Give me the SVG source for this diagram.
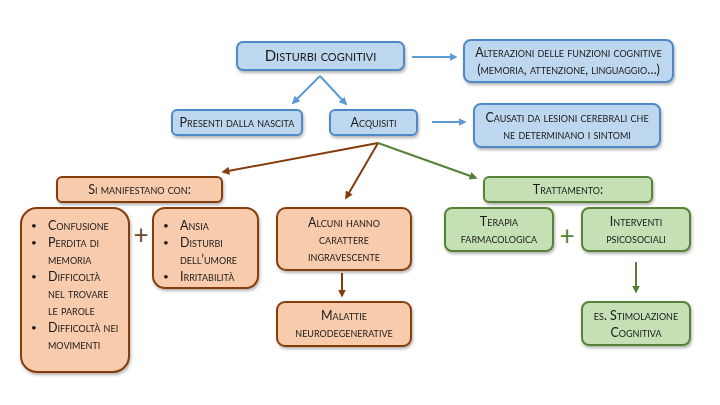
<svg xmlns="http://www.w3.org/2000/svg" width="720" height="405" viewBox="0 0 720 405">
<defs>
<style>
text{font-family:"Lato","Liberation Sans",sans-serif;font-variant:small-caps;font-size:12.5px;fill:#1a1a1a;text-anchor:middle}
.l{text-anchor:start}
.bu{font-size:10px;font-variant:normal}
.blue{fill:#bdd7ee;stroke:#4f88c6;stroke-width:2}
.br{fill:#f8cbad;stroke:#843c0c;stroke-width:2}
.gr{fill:#c5e0b4;stroke:#548235;stroke-width:2}
.cb{stroke:#5b9bd5;stroke-width:2;fill:none}
.cr{stroke:#843c0c;stroke-width:2;fill:none}
.cg{stroke:#548235;stroke-width:2;fill:none}
.plus{font-size:26px;font-variant:normal;fill:#6b4a2a}
.plusg{font-size:26px;font-variant:normal;fill:#548235}
</style>
<filter id="sh" x="-10%" y="-10%" width="130%" height="140%"><feDropShadow dx="1" dy="2" stdDeviation="1.5" flood-color="#000" flood-opacity="0.3"/></filter>
<marker id="ab" viewBox="0 0 10 10" refX="8" refY="5" markerWidth="4" markerHeight="4" orient="auto"><path d="M0,0 L10,5 L0,10 z" fill="#5b9bd5"/></marker>
<marker id="ar" viewBox="0 0 10 10" refX="8" refY="5" markerWidth="4" markerHeight="4" orient="auto"><path d="M0,0 L10,5 L0,10 z" fill="#843c0c"/></marker>
<marker id="ag" viewBox="0 0 10 10" refX="8" refY="5" markerWidth="4" markerHeight="4" orient="auto"><path d="M0,0 L10,5 L0,10 z" fill="#548235"/></marker>
</defs>
<rect width="720" height="405" fill="#fff"/>
<g id="connectors">
<line class="cb" x1="412" y1="57" x2="456" y2="57" marker-end="url(#ab)"/>
<line class="cb" x1="320" y1="76" x2="346" y2="104" marker-end="url(#ab)"/>
<line class="cb" x1="320" y1="76" x2="293" y2="103" marker-end="url(#ab)"/>
<line class="cb" x1="432" y1="122" x2="465" y2="122" marker-end="url(#ab)"/>
<line class="cr" x1="378" y1="143" x2="223" y2="172" marker-end="url(#ar)"/>
<line class="cr" x1="378" y1="143" x2="346" y2="198" marker-end="url(#ar)"/>
<line class="cg" x1="378" y1="143" x2="476" y2="178" marker-end="url(#ag)"/>
<line class="cr" x1="342" y1="273" x2="342" y2="296" marker-end="url(#ar)"/>
<line class="cg" x1="636" y1="262" x2="636" y2="292" marker-end="url(#ag)"/>
<text class="plus" x="141" y="244">+</text>
<text class="plusg" x="567" y="245">+</text>
</g>
<g id="n-disturbi" filter="url(#sh)"><rect class="blue" x="237" y="42" width="167" height="28" rx="6"/><text x="320.5" y="61" style="font-size:15px">Disturbi cognitivi</text></g>
<g id="n-alterazioni" filter="url(#sh)"><rect class="blue" x="464" y="40" width="209" height="42" rx="7"/><text x="568.5" y="57">Alterazioni delle funzioni cognitive</text><text x="568.5" y="74">(memoria, attenzione, linguaggio…)</text></g>
<g id="n-presenti" filter="url(#sh)"><rect class="blue" x="172" y="110" width="130" height="25" rx="5"/><text x="237" y="127">Presenti dalla nascita</text></g>
<g id="n-acquisiti" filter="url(#sh)"><rect class="blue" x="330" y="110" width="87" height="25" rx="5"/><text x="373.5" y="127">Acquisiti</text></g>
<g id="n-causati" filter="url(#sh)"><rect class="blue" x="474" y="104" width="186" height="43" rx="7"/><text x="567" y="122">Causati da lesioni cerebrali che</text><text x="567" y="139">ne determinano i sintomi</text></g>
<g id="n-manifestano" filter="url(#sh)"><rect class="br" x="57" y="177" width="165" height="25" rx="5"/><text x="139.5" y="194">Si manifestano con:</text></g>
<g id="n-sintomi" filter="url(#sh)"><rect class="br" x="21" y="208" width="108" height="164" rx="16"/>
<text class="l bu" x="31" y="229">•</text><text class="l" x="48" y="230">Confusione</text>
<text class="l bu" x="31" y="246">•</text><text class="l" x="48" y="247">Perdita di</text>
<text class="l" x="48" y="264">memoria</text>
<text class="l bu" x="31" y="280">•</text><text class="l" x="48" y="281">Difficoltà</text>
<text class="l" x="48" y="298">nel trovare</text>
<text class="l" x="48" y="315">le parole</text>
<text class="l bu" x="31" y="331">•</text><text class="l" x="48" y="332">Difficoltà nei</text>
<text class="l" x="48" y="349">movimenti</text></g>
<g id="n-ansia" filter="url(#sh)"><rect class="br" x="153" y="208" width="105" height="80" rx="12"/>
<text class="l bu" x="163" y="229">•</text><text class="l" x="180" y="230">Ansia</text>
<text class="l bu" x="163" y="246">•</text><text class="l" x="180" y="247">Disturbi</text>
<text class="l" x="180" y="264">dell’umore</text>
<text class="l bu" x="163" y="280">•</text><text class="l" x="180" y="281">Irritabilità</text></g>
<g id="n-alcuni" filter="url(#sh)"><rect class="br" x="277" y="208" width="134" height="62" rx="9"/><text x="344" y="227">Alcuni hanno</text><text x="344" y="244">carattere</text><text x="344" y="261">ingravescente</text></g>
<g id="n-malattie" filter="url(#sh)"><rect class="br" x="277" y="302" width="134" height="44" rx="8"/><text x="344" y="320">Malattie</text><text x="344" y="337">neurodegenerative</text></g>
<g id="n-trattamento" filter="url(#sh)"><rect class="gr" x="484" y="177" width="168" height="25" rx="5"/><text x="568" y="194">Trattamento:</text></g>
<g id="n-terapia" filter="url(#sh)"><rect class="gr" x="445" y="208" width="108" height="43" rx="7"/><text x="499" y="226">Terapia</text><text x="499" y="243">farmacologica</text></g>
<g id="n-interventi" filter="url(#sh)"><rect class="gr" x="582" y="208" width="108" height="43" rx="7"/><text x="636" y="226">Interventi</text><text x="636" y="243">psicosociali</text></g>
<g id="n-stimolazione" filter="url(#sh)"><rect class="gr" x="582" y="302" width="108" height="43" rx="7"/><text x="636" y="320">es. Stimolazione</text><text x="636" y="337">Cognitiva</text></g>
</svg>
